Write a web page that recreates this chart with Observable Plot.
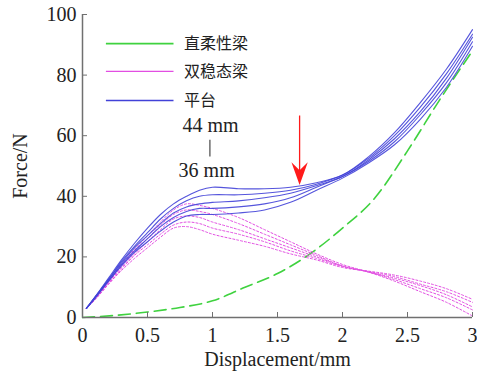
<!DOCTYPE html>
<html><head><meta charset="utf-8">
<script src="https://cdn.jsdelivr.net/npm/d3@7"></script>
<script src="https://cdn.jsdelivr.net/npm/@observablehq/plot@0.6"></script>
<style>
body{margin:0;background:#fff;}
#chart{position:relative;width:477px;height:374px;}
#chart svg, #chart svg text, #chart svg g{font-family:"Liberation Serif","Times New Roman",serif !important;font-variant-numeric:normal !important;}
#chart svg text.cjk, #chart svg g.cjk text{font-family:"Noto Sans CJK SC",sans-serif !important;}
</style></head>
<body><div id="chart"></div>
<script>
// shared displacement grid (mm) for platform and bistable curves
const gridX = [0.03,0.1,0.2,0.3,0.4,0.5,0.6,0.7,0.8,0.9,1.0,1.2,1.4,1.6,1.8,2.0,2.2,2.4,2.6,2.8,3.0];
// 平台 (platform) curves, 44 mm (top) ... 36 mm (bottom)
const platform1 = [3,7,13,19,24.5,29.5,34,37.5,40,42,43,42.5,42.5,43,44.5,47,53,61,71,82,95];
const platform2 = [3,7,12.5,18.5,23.5,28,32.5,36,38.5,40,40.5,40.5,41,42,44,47,52.5,60,69.5,80.5,93.5];
const platform3 = [3,6.8,12.5,18,23,27,31,34.5,36.5,37.5,38,38.5,39.5,41,43.5,46.5,52,59,68,79,92.5];
const platform4 = [3,6.8,12,17.5,22,26,30,33,35,36,36,36.5,37.5,39.5,43,46.5,51.5,58,67,77.5,91];
const platform5 = [3,6.5,12,17,21.5,25,28.5,31.5,33.5,34,34,34.5,35.5,38,42,46,51,57,65.5,76,89.5];
// 双稳态梁 (bistable beam) curves
const bistable1 = [3,6.5,12,17.5,22.5,27,31.5,35.5,37.5,37,36,33,29,25,21,17.5,15,12,8.5,5,0.5];
const bistable2 = [3,6.5,11.5,17,22,26,30.5,34,35.5,35,34,31,27.5,24,20.5,17,15,12.5,9.5,6.5,2.5];
const bistable3 = [3,6.3,11.5,16.5,21,25,29,32.5,33.5,33,31.5,29,26,23,20,17,15,13,10.5,7.5,3.5];
const bistable4 = [3,6.2,11,16,20.5,24,27.5,30.5,31.5,31,29.5,27.5,25,22,19.5,16.8,15.2,13.5,11,8.5,5];
const bistable5 = [3,6,11,15.5,19.5,23,26.5,29.5,30,29,27.5,25.5,23.5,21,19,16.5,15.3,14,12,9.5,6];
// 直柔性梁 (straight flexible beam)
const straightX = [0,0.25,0.5,0.75,1,1.25,1.5,1.75,2,2.25,2.5,2.75,3];
const straightY = [0,0.7,1.8,3.3,5.5,10,14.5,21,29.5,39.5,55,72,88];
// legend
const legendNames = ["直柔性梁","双稳态梁","平台"];
const legendY = [90.4, 81.2, 71.6];
const legendX = [0.18, 0.70, 0.78];
// annotation
const annoTexts = ["44 mm","36 mm"];
const annoTextX = [0.985, 0.955];
const annoTextY = [63.3, 48.6];
const annoBarX = 0.98, annoBarY = [58.5, 53];
const arrowX = 1.67, arrowY = [66.5, 47.5];

const xTicks = [0,0.5,1,1.5,2,2.5,3];
const yTicks = [0,20,40,60,80,100];

const toRows = (xs, ys, id) => xs.map((x,i)=>({x, y: ys[i], id}));
const platformRows = [platform1,platform2,platform3,platform4,platform5].flatMap((s,k)=>toRows(gridX,s,k));
const bistableRows = [bistable1,bistable2,bistable3,bistable4,bistable5].flatMap((s,k)=>toRows(gridX,s,k));
const straightRows = toRows(straightX, straightY, 0);

const BLUE = "#4242d8", MAG = "#e24ee2", GREEN = "#3fd23f", AX = "#707070";
const serif = "Liberation Serif";

const legendRows = legendNames.map((n,i)=>({n, y: legendY[i], x1: legendX[0], x2: legendX[1], tx: legendX[2], i}));

const arrowHead = {
  draw(ctx, size) {
    const h = Math.sqrt(size) * 1.6, w = h * 0.36;
    ctx.moveTo(0, h*0.5); ctx.lineTo(-w, -h*0.5); ctx.lineTo(0, -h*0.15); ctx.lineTo(w, -h*0.5); ctx.closePath();
  }
};

const chart = Plot.plot({
  width: 477, height: 374,
  marginLeft: 82, marginRight: 5, marginTop: 14, marginBottom: 57,
  style: {fontFamily: serif, fontSize: "20px", color: "#222", background: "#fff"},
  x: {domain: [0,3]},
  y: {domain: [0,100]},
  marks: [
    Plot.line(straightRows, {x:"x", y:"y", z:"id", stroke: GREEN, strokeWidth: 1.6, strokeDasharray: "12,6", curve: "monotone-x"}),
    Plot.line(bistableRows, {x:"x", y:"y", z:"id", stroke: MAG, strokeWidth: 1, strokeDasharray: "2,2", curve: "catmull-rom"}),
    Plot.line(platformRows, {x:"x", y:"y", z:"id", stroke: BLUE, strokeWidth: 1.1, strokeOpacity: 0.9, curve: "catmull-rom"}),
    // legend
    Plot.link(legendRows, {x1:"x1", x2:"x2", y1:"y", y2:"y", stroke: d => [GREEN,MAG,BLUE][d.i], strokeWidth: d => [1.6,1.2,1.6][d.i], strokeDasharray: d => ["13,5","2,2",null][d.i]}),
    Plot.text(legendRows, {x:"tx", y:"y", text:"n", textAnchor:"start", fontSize: 16, fill:"#222", fontFamily: "Noto Sans CJK SC", className: "cjk"}),
    // annotation
    Plot.text(annoTexts, {x: (d,i)=>annoTextX[i], y: (d,i)=>annoTextY[i], text: d=>d, fontSize: 20, fontFamily: serif, fill:"#222"}),
    Plot.ruleX([annoBarX], {y1: annoBarY[0], y2: annoBarY[1], stroke:"#555", strokeWidth: 1.3}),
    Plot.ruleX([arrowX], {y1: arrowY[0], y2: arrowY[1], stroke:"#ff1a1a", strokeWidth: 1.3}),
    Plot.dot([arrowX], {x: d=>d, y: arrowY[1], symbol: arrowHead, r: 8, fill:"#ff1a1a", stroke:"none"}),
    // axes
    Plot.axisX({ticks: xTicks, tickFormat: d=>String(d), tickSize: -5, tickPadding: 15, stroke: AX, label: "Displacement/mm", labelAnchor:"center", labelArrow: false, labelOffset: 48, fontSize: 20, fontFamily: serif, fontVariant: "normal"}),
    Plot.axisY({ticks: yTicks, tickSize: -5, tickPadding: 11, stroke: AX, label: "Force/N", labelAnchor:"center", labelArrow: false, labelOffset: 70, fontSize: 20, fontFamily: serif, fontVariant: "normal"}),
    Plot.ruleY([0], {stroke: AX, strokeWidth: 1.5}),
    Plot.ruleX([0], {stroke: AX, strokeWidth: 1.5})
  ]
});
document.getElementById("chart").appendChild(chart);
</script>
</body></html>
